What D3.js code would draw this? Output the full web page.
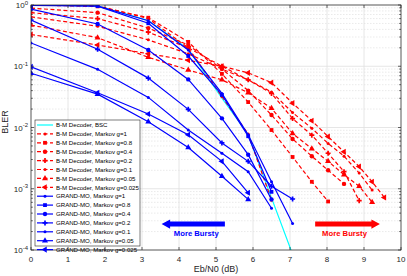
<!DOCTYPE html>
<html>
<head>
<meta charset="utf-8">
<title>BLER vs Eb/N0</title>
<script src="https://d3js.org/d3.v7.min.js"></script>
<style>
    body { margin: 0; background: #fff; }
    svg { font-family: "Liberation Sans", Arial, sans-serif; }
</style>
</head>
<body>
<svg id="chart" width="407" height="276"></svg>
<script>
// Eb/N0 points (dB) used by every curve
const snr = [0, 1.8, 3.17, 4.25, 5.16, 5.87, 6.5, 7.07, 7.59, 8.03, 8.46, 8.87, 9.22, 9.55];
const gLabels = ["1", "0.8", "0.4", "0.2", "0.1", "0.05", "0.025"];

// B-M decoder, BSC
const bmBSC = [1.0, 0.97, 0.56, 0.19, 0.03, 0.0077, 7.1e-4, 8.5e-5];

// B-M decoder, Markov channel
const bmG1    = [1.0, 0.97, 0.6, 0.2, 0.032, 0.0078, 6.5e-4];
const bmG08   = [1.0, 0.95, 0.62, 0.25, 0.075, 0.026, 0.0091, 0.0033, 0.0013, 6.2e-4];
const bmG04   = [0.89, 0.75, 0.42, 0.222, 0.09, 0.04, 0.016, 0.0065, 0.0034, 0.002, 0.0012];
const bmG02   = [0.75, 0.6, 0.36, 0.2, 0.1, 0.06, 0.036, 0.014, 0.0075, 0.0038, 0.0019, 6.4e-4];
const bmG01   = [0.64, 0.45, 0.27, 0.16, 0.09, 0.06, 0.038, 0.0175, 0.0097, 0.0055, 0.0034, 0.0018, 9.5e-4];
const bmG005  = [0.47, 0.293, 0.14, 0.087, 0.06, 0.037, 0.0206, 0.008, 0.0045, 0.0028, 0.0017, 0.0011, 6e-4];
const bmG0025 = [0.33, 0.222, 0.16, 0.125, 0.1, 0.078, 0.054, 0.025, 0.0129, 0.0071, 0.004, 0.0023, 0.0013, 7.2e-4];

// GRAND-MO, Markov channel
const moG1    = [1.0, 0.963, 0.554, 0.184, 0.036, 0.0076, 0.0013, 2.7e-4];
const moG08   = [0.985, 0.96, 0.503, 0.147, 0.034, 0.0072, 8.9e-4];
const moG04   = [0.86, 0.49, 0.184, 0.061, 0.0141, 0.0036, 6.7e-4];
const moG02   = [0.569, 0.189, 0.064, 0.0198, 0.0056, 0.0028, 0.0011, 6.8e-4];
const moG01   = [0.24, 0.089, 0.031, 0.0091, 0.0038, 0.0019, 4.8e-4];
const moG005  = [0.077, 0.035, 0.0124, 0.0047, 0.0016, 6.7e-4];
const moG0025 = [0.098, 0.037, 0.0166, 0.0076, 0.0028, 8.6e-4];

const xTicks = [0, 1, 2, 3, 4, 5, 6, 7, 8, 9, 10];
const yTicks = [1, 1e-1, 1e-2, 1e-3, 1e-4];
const yTickExp = ["0", "-1", "-2", "-3", "-4"];

const markers = ["dot", "square", "circle", "plus", "dot", "triangle", "left"];

const series = [{ name: "B-M Decoder, BSC", vals: bmBSC, color: "#00ffff", dash: null, marker: null }];
[bmG1, bmG08, bmG04, bmG02, bmG01, bmG005, bmG0025].forEach((v, i) =>
    series.push({ name: "B-M Decoder, Markov g=" + gLabels[i], vals: v, color: "#ff0000", dash: "4,2.5", marker: markers[i] }));
[moG1, moG08, moG04, moG02, moG01, moG005, moG0025].forEach((v, i) =>
    series.push({ name: "GRAND-MO, Markov g=" + gLabels[i], vals: v, color: "#0000ff", dash: null, marker: markers[i] }));

const svg = d3.select("#chart");
const x = d3.scaleLinear([0, 10], [31, 401]);
const y = d3.scaleLog([1e-4, 1], [250, 5]);

svg.append("defs").append("clipPath").attr("id", "clip")
    .append("rect").attr("x", 31).attr("y", 5).attr("width", 370).attr("height", 245);

// grid
const grid = svg.append("g");
for (let e = -4; e < 0; e++) {
    for (let m = 2; m <= 9; m++) {
        grid.append("line")
            .attr("x1", x(0)).attr("x2", x(10))
            .attr("y1", y(m * Math.pow(10, e))).attr("y2", y(m * Math.pow(10, e)))
            .attr("stroke", "#dcdcdc").attr("stroke-width", 0.6).attr("stroke-dasharray", "1.5,1.5");
    }
}
xTicks.forEach(t => grid.append("line")
    .attr("x1", x(t)).attr("x2", x(t)).attr("y1", y(1)).attr("y2", y(1e-4))
    .attr("stroke", "#e0e0e0").attr("stroke-width", 0.8));
yTicks.forEach(t => grid.append("line")
    .attr("x1", x(0)).attr("x2", x(10)).attr("y1", y(t)).attr("y2", y(t))
    .attr("stroke", "#e0e0e0").attr("stroke-width", 0.8));

// curves
const plot = svg.append("g").attr("clip-path", "url(#clip)");
const line = d3.line().x(d => x(d[0])).y(d => y(d[1]));

function drawMarker(g, type, cx, cy, color) {
    if (type == "dot") {
        g.append("circle").attr("cx", cx).attr("cy", cy).attr("r", 1.5).attr("fill", color);
    } else if (type == "circle") {
        g.append("circle").attr("cx", cx).attr("cy", cy).attr("r", 2.2).attr("fill", color);
    } else if (type == "square") {
        g.append("rect").attr("x", cx - 1.9).attr("y", cy - 1.9).attr("width", 3.8).attr("height", 3.8).attr("fill", color);
    } else if (type == "plus") {
        g.append("path").attr("d", d3.symbol(d3.symbolCross, 14)())
            .attr("transform", "translate(" + cx + "," + cy + ")").attr("fill", color);
    } else if (type == "triangle") {
        g.append("path").attr("d", d3.symbol(d3.symbolTriangle, 16)())
            .attr("transform", "translate(" + cx + "," + cy + ")").attr("fill", color);
    } else if (type == "left") {
        g.append("path").attr("d", d3.symbol(d3.symbolTriangle, 16)())
            .attr("transform", "translate(" + cx + "," + cy + ") rotate(-90)").attr("fill", color);
    }
}

series.forEach(s => {
    const pts = s.vals.map((v, i) => [snr[i], v]);
    plot.append("path").datum(pts)
        .attr("d", line)
        .attr("fill", "none")
        .attr("stroke", s.color)
        .attr("stroke-width", 1.2)
        .attr("stroke-dasharray", s.dash);
    if (s.marker) pts.forEach(p => drawMarker(plot, s.marker, x(p[0]), y(p[1]), s.color));
});

// axes box and ticks
const ax = svg.append("g").attr("stroke", "#262626").attr("stroke-width", 0.7);
ax.append("rect").attr("x", 31).attr("y", 5).attr("width", 370).attr("height", 245).attr("fill", "none");
xTicks.forEach(t => {
    ax.append("line").attr("x1", x(t)).attr("x2", x(t)).attr("y1", 250).attr("y2", 247);
    ax.append("line").attr("x1", x(t)).attr("x2", x(t)).attr("y1", 5).attr("y2", 8);
});
yTicks.forEach(t => {
    ax.append("line").attr("x1", 31).attr("x2", 34).attr("y1", y(t)).attr("y2", y(t));
    ax.append("line").attr("x1", 401).attr("x2", 398).attr("y1", y(t)).attr("y2", y(t));
});
for (let e = -4; e < 0; e++) {
    for (let m = 2; m <= 9; m++) {
        const yy = y(m * Math.pow(10, e));
        ax.append("line").attr("x1", 31).attr("x2", 32.8).attr("y1", yy).attr("y2", yy);
        ax.append("line").attr("x1", 401).attr("x2", 399.2).attr("y1", yy).attr("y2", yy);
    }
}

// tick labels
svg.append("g").selectAll("text").data(xTicks).enter()
    .append("text")
    .attr("x", d => x(d)).attr("y", 262)
    .attr("text-anchor", "middle").attr("font-size", 8).attr("fill", "#262626")
    .text(d => d);

const yl = svg.append("g").selectAll("text").data(yTicks).enter()
    .append("text")
    .attr("x", 28).attr("y", d => y(d) + 3)
    .attr("text-anchor", "end").attr("font-size", 8).attr("fill", "#262626");
yl.append("tspan").text("10");
yl.append("tspan").attr("dy", -3.5).attr("font-size", 6).text((d, i) => yTickExp[i]);

svg.append("text").attr("x", 216).attr("y", 272).attr("text-anchor", "middle")
    .attr("font-size", 9).attr("fill", "#262626").text("Eb/N0 (dB)");
svg.append("text").attr("transform", "translate(8,122) rotate(-90)").attr("text-anchor", "middle")
    .attr("font-size", 9).attr("fill", "#262626").text("BLER");

// legend
const leg = svg.append("g");
leg.append("rect").attr("x", 35).attr("y", 120).attr("width", 105).attr("height", 126)
    .attr("fill", "#fff").attr("stroke", "#262626").attr("stroke-width", 0.6);
series.forEach((s, i) => {
    const ly = 125 + i * 8.9;
    leg.append("line").attr("x1", 37).attr("x2", 53).attr("y1", ly).attr("y2", ly)
        .attr("stroke", s.color).attr("stroke-width", 1.2).attr("stroke-dasharray", s.dash);
    if (s.marker) drawMarker(leg, s.marker, 45, ly, s.color);
    leg.append("text").attr("x", 56).attr("y", ly + 2.2).attr("font-size", 6.1).attr("fill", "#000").text(s.name);
});

// "More Bursty" arrows
function arrow(x0, x1, yv, color, label) {
    const yc = y(yv), dir = x1 < x0 ? -1 : 1;
    const tip = x(x1), base = tip - dir * 8.5, tail = x(x0);
    svg.append("path")
        .attr("d", "M" + tail + "," + (yc - 2.5) + "L" + base + "," + (yc - 2.5) + "L" + base + "," + (yc - 4.6) +
            "L" + tip + "," + yc + "L" + base + "," + (yc + 4.6) + "L" + base + "," + (yc + 2.5) +
            "L" + tail + "," + (yc + 2.5) + "Z")
        .attr("fill", color);
    svg.append("text").attr("x", (tail + tip) / 2 + (dir < 0 ? 3 : -3)).attr("y", yc + 12)
        .attr("text-anchor", "middle").attr("font-size", 7.7).attr("font-weight", "bold")
        .attr("fill", color).text(label);
}
arrow(5.24, 3.53, 2.65e-4, "#0000ff", "More Bursty");
arrow(7.68, 9.43, 2.65e-4, "#ff0000", "More Bursty");
</script>
</body>
</html>
